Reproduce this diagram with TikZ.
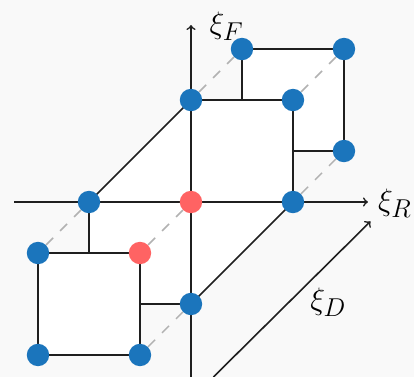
\documentclass[tikz,border=0pt]{standalone}
\usetikzlibrary{positioning}

\definecolor{dotblue}{RGB}{27,117,188}
\definecolor{dotred}{RGB}{255,99,99}
\definecolor{paper}{RGB}{249,249,249}

\pgfdeclarelayer{faces}
\pgfsetlayers{faces,main}

\begin{document}
\begin{tikzpicture}[on grid,node distance=2cm,
    dot/.style={circle,fill=dotblue,inner sep=0pt,minimum size=12.5pt},
    hot/.style={dot,fill=dotred},
    face/.style={fill=white,draw=black!88,line width=0.9pt},
    hidden/.style={draw=black!30,line width=0.8pt,dash pattern=on 5.5pt off 5.5pt},
    axis/.style={->,draw=black!88,line width=0.9pt},
    lbl/.style={font=\fontsize{19}{23}\selectfont}]
   \useasboundingbox (-3.745,-3.431) rectangle (4.373,3.961);
   % middle layer
   \node[hot] (o) {};
   \node[dot] (r) [right=of o] {};
   \node[dot] (l) [left=of o] {};
   \node[dot] (f) [above=of o] {};
   \node[dot] (b) [below=of o] {};
   \node[dot] (fr) [above=of r] {};
   \coordinate[below=of l] (lb);
   % back square
   \node[dot] (t1) [above right=1cm and 1cm of f] {};
   \node[dot] (t2) [right=of t1] {};
   \node[dot] (t3) [below=of t2] {};
   \coordinate[below=of t1] (t4);
   % front square
   \node[dot] (s1) [below left=1cm and 1cm of l] {};
   \node[hot] (s2) [right=of s1] {};
   \node[dot] (s3) [below=of s2] {};
   \node[dot] (s4) [left=of s3] {};
   % axis ends and labels
   \coordinate[left=3.47cm of o] (xl);
   \coordinate[right=3.47cm of o] (xr);
   \coordinate[below=3.431cm of o] (yb);
   \coordinate[above=3.47cm of o] (yt);
   \coordinate (dl) at (0.44,-3.431);
   \coordinate (dr) at (3.52,-0.38);
   \node[lbl] (lR) at (4.0,-0.02) {$\xi_R$};
   \node[lbl] (lF) at (0.7,3.45) {$\xi_F$};
   \node[lbl] (lD) at (2.69,-1.96) {$\xi_D$};

   \begin{pgfonlayer}{faces}
   \fill[paper] (-3.745,-3.431) rectangle (4.373,3.961);
   \draw[face] (t1.center) -- (t2.center) -- (t3.center) -- (t4) -- cycle;
   \path[hidden] (f) edge (t1) (fr) edge (t2) (r) edge (t3);
   \draw[face] (l.center) -- (f.center) -- (fr.center) -- (r.center)
      -- (b.center) -- (lb) -- cycle;
   \path[hidden] (s1) edge (l) (s2) edge (o) (s3) edge (b);
   \draw[face] (s1.center) rectangle (s3.center);
   \draw[axis] (xl) -- (xr);
   \draw[axis] (yb) -- (yt);
   \draw[axis] (dl) -- (dr);
   \end{pgfonlayer}
\end{tikzpicture}
\end{document}
